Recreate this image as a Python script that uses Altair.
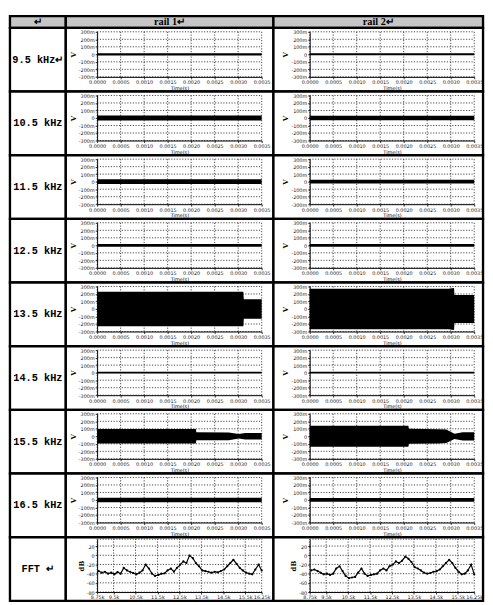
import altair as alt
import pandas as pd

# ---------------- data ----------------
header_labels = ["↵", "rail 1↵", "rail 2↵"]
row_labels = ["9.5 kHz↵", "10.5 kHz", "11.5 kHz", "12.5 kHz", "13.5 kHz",
              "14.5 kHz", "15.5 kHz", "16.5 kHz", "FFT ↵"]

time_ticks_ms = [0, 0.5, 1.0, 1.5, 2.0, 2.5, 3.0, 3.5]
volt_ticks_mv = [-300, -200, -100, 0, 100, 200, 300]

# half width (mV) of the oscillation envelope for the steady rows
# (rows 13.5 kHz and 15.5 kHz vary in time and are listed separately)
half_rail1 = [15, 32, 32, 18, 0, 12, 0, 30]
half_rail2 = [13, 30, 25, 18, 0, 12, 0, 25]

t135_r1 = [0, 3.11, 3.12, 3.5]
a135_r1 = [230, 230, 130, 130]
t135_r2 = [0, 2.95, 3.07, 3.08, 3.5]
a135_r2 = [270, 270, 280, 185, 185]

t155_r1 = [0, 2.10, 2.11, 2.80, 3.01, 3.15, 3.5]
a155_r1 = [96, 96, 53, 52, 30, 43, 43]
t155_r2 = [0, 2.10, 2.11, 2.73, 2.905, 3.08, 3.255, 3.5]
a155_r2 = [140, 140, 100, 95, 90, 35, 55, 55]

fft_x_ticks = [8.75, 9.5, 10.5, 11.5, 12.5, 13.5, 14.5, 15.5, 16.25]
fft_y_ticks = [-80, -60, -40, -20, 0, 20]
fft_y_domain = [-80, 35]

fft_freq_khz = [8.82, 8.96, 9.11, 9.25, 9.39, 9.54, 9.68, 9.82, 9.96, 10.11,
                10.25, 10.39, 10.54, 10.68, 10.82, 10.96, 11.11, 11.25, 11.39, 11.54,
                11.68, 11.82, 11.96, 12.11, 12.25, 12.39, 12.54, 12.68, 12.82, 12.96,
                13.11, 13.25, 13.39, 13.54, 13.68, 13.82, 13.96, 14.11, 14.25, 14.39,
                14.54, 14.68, 14.82, 14.96, 15.11, 15.25, 15.39, 15.54, 15.68, 15.82,
                15.96, 16.11, 16.25]
fft_rail1_db = [-34.4, -37.9, -35.8, -40.0, -37.9, -41.4, -36.5, -40.0, -27.4, -33.0,
                -35.8, -38.6, -41.4, -37.9, -33.0, -20.3, -28.8, -40.0, -44.9, -42.8,
                -40.0, -39.3, -33.0, -28.8, -35.8, -27.4, -20.3, -13.3, -16.8, -0.7,
                -6.3, -16.8, -23.9, -33.0, -34.4, -35.8, -37.9, -35.8, -37.2, -34.4,
                -30.9, -23.9, -16.8, -9.8, -18.9, -27.4, -33.0, -37.9, -40.0, -41.4,
                -30.9, -20.3, -33.0]
fft_rail2_db = [-33.0, -30.9, -34.4, -37.9, -41.4, -40.0, -42.8, -40.0, -28.8, -23.9,
                -34.4, -44.9, -49.8, -48.4, -47.0, -37.9, -28.8, -40.0, -44.9, -42.8,
                -41.4, -40.0, -33.0, -28.8, -33.0, -23.9, -20.3, -13.3, -16.8, -11.9,
                -2.8, -7.7, -14.7, -26.0, -28.8, -33.0, -37.9, -40.0, -38.6, -35.8,
                -34.4, -30.9, -23.9, -16.8, -9.8, -16.8, -27.4, -35.8, -41.4, -40.0,
                -33.0, -20.3, -41.4]

# ---------------- layout ----------------
ROW_H = 65
HDR_H = 12
LAB_W = 57
CELLS = [(212, 32, 200), (214, 37, 205)]  # cell width, plot left, plot right
WAVE_Y_RANGE = [50, 4]
FFT_Y_RANGE = [56, 2]
STROKE = 2.4
GRID = dict(color="#1a1a1a", strokeDash=[1.2, 1.6], strokeWidth=0.8)


def frame(fill="white"):
    return alt.ViewBackground(fill=fill, stroke="black", strokeWidth=STROKE)


def text_cell(label, W, H, font, size, weight, fill="white"):
    df = pd.DataFrame({"label": [label]})
    return (alt.Chart(df)
            .mark_text(font=font, fontSize=size, fontWeight=weight, color="black")
            .encode(text="label:N")
            .properties(width=W, height=H, view=frame(fill)))


def y_axis(L, title, values, expr):
    return alt.Axis(orient="left", offset=-L, values=values, grid=False,
                    domainColor="black", domainWidth=1, tickColor="black",
                    tickSize=2, tickWidth=0.8,
                    labelFont="DejaVu Sans", labelFontSize=5, labelColor="#1a1a1a",
                    labelPadding=1, labelExpr=expr, labelOverlap=False,
                    title=title, titleFont="DejaVu Serif", titleFontSize=7,
                    titleFontWeight="bold", titleColor="black", titlePadding=2)


def x_axis(offset, values, expr, title):
    return alt.Axis(orient="bottom", offset=offset, values=values, grid=False,
                    domainColor="black", domainWidth=1, tickColor="black",
                    tickSize=2, tickWidth=0.8,
                    labelFont="DejaVu Sans", labelFontSize=5, labelColor="#1a1a1a",
                    labelPadding=1, labelExpr=expr, labelOverlap=False, labelFlush=False,
                    title=title, titleFont="DejaVu Sans", titleFontSize=5,
                    titleFontWeight="normal", titleColor="black", titlePadding=1)


def envelope(rail, i):
    if i == 4:
        return (t135_r1, a135_r1) if rail == 1 else (t135_r2, a135_r2)
    if i == 6:
        return (t155_r1, a155_r1) if rail == 1 else (t155_r2, a155_r2)
    h = half_rail1[i] if rail == 1 else half_rail2[i]
    return ([time_ticks_ms[0], time_ticks_ms[-1]], [h, h])


def wave_cell(t, a, W, L, R):
    xs = alt.Scale(domain=[time_ticks_ms[0], time_ticks_ms[-1]], range=[L, R], nice=False, zero=False)
    ys = alt.Scale(domain=[volt_ticks_mv[0], volt_ticks_mv[-1]], range=WAVE_Y_RANGE, nice=False, zero=False)
    xa = x_axis(-(ROW_H - WAVE_Y_RANGE[0]), time_ticks_ms, "format(datum.value / 1000, '.4f')", "Time(s)")
    ya = y_axis(L, "V", volt_ticks_mv, "datum.value == 0 ? '0' : datum.value + 'm'")
    gx = pd.DataFrame({"t": time_ticks_ms, "lo": volt_ticks_mv[0], "hi": volt_ticks_mv[-1]})
    gy = pd.DataFrame({"v": volt_ticks_mv, "lo": time_ticks_ms[0], "hi": time_ticks_ms[-1]})
    env = pd.DataFrame({"t": t, "top": a, "bot": [-v for v in a]})
    vx = alt.Chart(gx).mark_rule(**GRID).encode(
        x=alt.X("t:Q", scale=xs, axis=xa), y=alt.Y("lo:Q", scale=ys, axis=ya), y2="hi:Q")
    hy = alt.Chart(gy).mark_rule(**GRID).encode(
        x=alt.X("lo:Q", scale=xs, axis=xa), x2="hi:Q", y=alt.Y("v:Q", scale=ys, axis=ya))
    band = alt.Chart(env).mark_area(color="black", fill="black", opacity=1, orient="vertical").encode(
        x=alt.X("t:Q", scale=xs, axis=xa), y=alt.Y("top:Q", scale=ys, axis=ya),
        y2=alt.Y2("bot:Q"))
    return alt.layer(vx, hy, band).properties(width=W, height=ROW_H, view=frame())


def fft_cell(db, W, L, R):
    xs = alt.Scale(domain=[fft_x_ticks[0], fft_x_ticks[-1]], range=[L, R], nice=False, zero=False)
    ys = alt.Scale(domain=fft_y_domain, range=FFT_Y_RANGE, nice=False, zero=False)
    xa = x_axis(-(ROW_H - FFT_Y_RANGE[0]), fft_x_ticks, "format(datum.value, '.4~f') + 'k'", "")
    ya = y_axis(L, "dB", fft_y_ticks, "datum.value")
    gx = pd.DataFrame({"f": fft_x_ticks, "lo": fft_y_domain[0], "hi": fft_y_domain[1]})
    gy = pd.DataFrame({"v": fft_y_ticks + [fft_y_domain[1]], "lo": fft_x_ticks[0], "hi": fft_x_ticks[-1]})
    spec = pd.DataFrame({"f": fft_freq_khz, "db": db})
    vx = alt.Chart(gx).mark_rule(**GRID).encode(
        x=alt.X("f:Q", scale=xs, axis=xa), y=alt.Y("lo:Q", scale=ys, axis=ya), y2="hi:Q")
    hy = alt.Chart(gy).mark_rule(**GRID).encode(
        x=alt.X("lo:Q", scale=xs, axis=xa), x2="hi:Q", y=alt.Y("v:Q", scale=ys, axis=ya))
    line = alt.Chart(spec).mark_line(color="black", strokeWidth=1.2).encode(
        x=alt.X("f:Q", scale=xs, axis=xa), y=alt.Y("db:Q", scale=ys, axis=ya))
    pts = alt.Chart(spec).mark_point(color="black", filled=True, size=5, opacity=1).encode(
        x=alt.X("f:Q", scale=xs, axis=xa), y=alt.Y("db:Q", scale=ys, axis=ya))
    return alt.layer(vx, hy, line, pts).properties(width=W, height=ROW_H, view=frame())


HDR_FILL = "#c6c6c6"
cells = [
    text_cell(header_labels[0], LAB_W, HDR_H, "Liberation Serif", 10, "bold", HDR_FILL),
    text_cell(header_labels[1], CELLS[0][0], HDR_H, "Liberation Serif", 10.5, "bold", HDR_FILL),
    text_cell(header_labels[2], CELLS[1][0], HDR_H, "Liberation Serif", 10.5, "bold", HDR_FILL),
]
for i in range(8):
    cells += [
        text_cell(row_labels[i], LAB_W, ROW_H, "Liberation Mono", 10.5, "bold"),
        wave_cell(*envelope(1, i), *CELLS[0]),
        wave_cell(*envelope(2, i), *CELLS[1]),
    ]
cells += [
    text_cell(row_labels[8], LAB_W, ROW_H, "Liberation Mono", 10.5, "bold"),
    fft_cell(fft_rail1_db, *CELLS[0]),
    fft_cell(fft_rail2_db, *CELLS[1]),
]

chart = alt.concat(*cells, columns=3, spacing=0, bounds="flush", align="each").properties(padding=0)

chart.save("out.html", embed_options={"renderer": "svg", "actions": False})
